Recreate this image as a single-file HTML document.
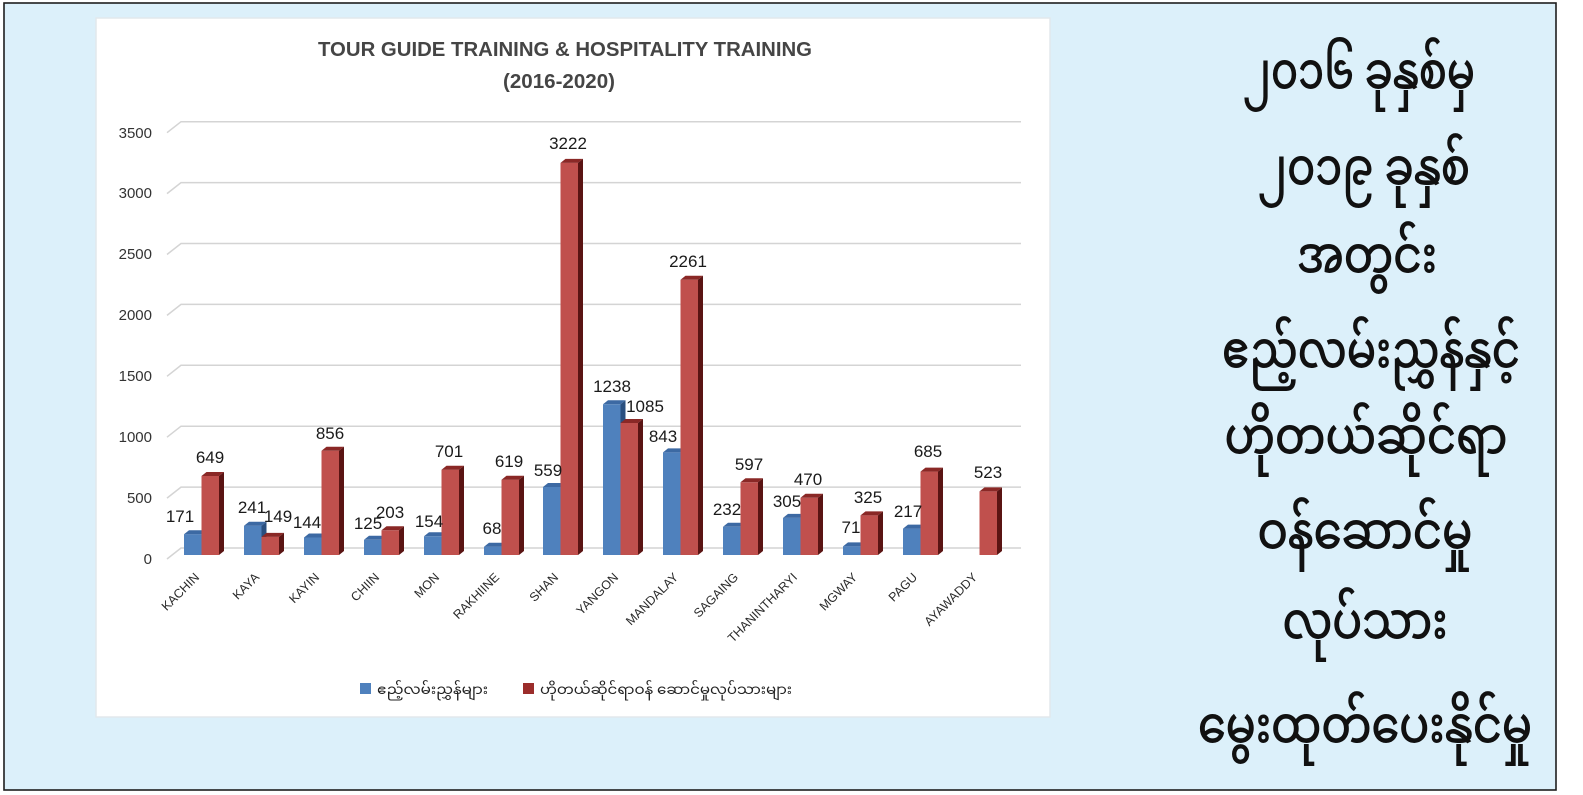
<!DOCTYPE html>
<html>
<head>
<meta charset="utf-8">
<style>
html,body{margin:0;padding:0;background:#ffffff;width:1583px;height:795px;overflow:hidden;}
svg{display:block;}
.t{font-family:"Liberation Sans",sans-serif;}
.my{font-family:"Noto Sans Myanmar","Padauk","Myanmar Text","Pyidaungsu","Liberation Sans",sans-serif;}
</style>
</head>
<body>
<svg width="1583" height="795" viewBox="0 0 1583 795" xmlns="http://www.w3.org/2000/svg">
  <!-- outer frame -->
  <rect x="4" y="3" width="1552" height="787" fill="#dcf0fa" stroke="#1e1e1e" stroke-width="1.6"/>
  <!-- chart panel -->
  <rect x="96" y="18" width="954" height="699" fill="#ffffff" stroke="#e2e8ec" stroke-width="1.5"/>

  <!-- title -->
  <text class="t" x="565" y="56" text-anchor="middle" font-size="20" font-weight="bold" fill="#454545" textLength="494" lengthAdjust="spacingAndGlyphs">TOUR GUIDE TRAINING &amp; HOSPITALITY TRAINING</text>
  <text class="t" x="559" y="88" text-anchor="middle" font-size="20" font-weight="bold" fill="#454545" textLength="112" lengthAdjust="spacingAndGlyphs">(2016-2020)</text>

  <!-- gridlines -->
  <g stroke="#d4d4d4" stroke-width="1.5" fill="none">
    <polyline points="167,559 181,548 1021,548"/>
    <polyline points="167,498.1 181,487.1 1021,487.1"/>
    <polyline points="167,437.2 181,426.2 1021,426.2"/>
    <polyline points="167,376.3 181,365.3 1021,365.3"/>
    <polyline points="167,315.4 181,304.4 1021,304.4"/>
    <polyline points="167,254.5 181,243.5 1021,243.5"/>
    <polyline points="167,193.6 181,182.6 1021,182.6"/>
    <polyline points="167,132.7 181,121.7 1021,121.7"/>
  </g>

  <!-- y-axis labels -->
  <g class="t" font-size="15" fill="#333" text-anchor="end">
    <text x="152" y="564">0</text>
    <text x="152" y="503">500</text>
    <text x="152" y="442">1000</text>
    <text x="152" y="381">1500</text>
    <text x="152" y="320">2000</text>
    <text x="152" y="259">2500</text>
    <text x="152" y="198">3000</text>
    <text x="152" y="138">3500</text>
  </g>

  <!-- bars -->
  <g>
    <g transform="translate(184,534.2)"><rect width="17.5" height="20.8" fill="#4f81bd"/><polygon points="0,0 17.5,0 22.5,-4 5,-4" fill="#3c69a3"/><polygon points="17.5,0 22.5,-4 22.5,16.8 17.5,20.8" fill="#2a4f7f"/></g>
    <g transform="translate(201.5,476)"><rect width="17.5" height="79" fill="#c0504d"/><polygon points="0,0 17.5,0 22.5,-4 5,-4" fill="#8a2826"/><polygon points="17.5,0 22.5,-4 22.5,75 17.5,79" fill="#5a1413"/></g>
    <g transform="translate(244,525.7)"><rect width="17.5" height="29.3" fill="#4f81bd"/><polygon points="0,0 17.5,0 22.5,-4 5,-4" fill="#3c69a3"/><polygon points="17.5,0 22.5,-4 22.5,25.3 17.5,29.3" fill="#2a4f7f"/></g>
    <g transform="translate(261.5,536.9)"><rect width="17.5" height="18.1" fill="#c0504d"/><polygon points="0,0 17.5,0 22.5,-4 5,-4" fill="#8a2826"/><polygon points="17.5,0 22.5,-4 22.5,14.1 17.5,18.1" fill="#5a1413"/></g>
    <g transform="translate(304,537.5)"><rect width="17.5" height="17.5" fill="#4f81bd"/><polygon points="0,0 17.5,0 22.5,-4 5,-4" fill="#3c69a3"/><polygon points="17.5,0 22.5,-4 22.5,13.5 17.5,17.5" fill="#2a4f7f"/></g>
    <g transform="translate(321.5,450.8)"><rect width="17.5" height="104.2" fill="#c0504d"/><polygon points="0,0 17.5,0 22.5,-4 5,-4" fill="#8a2826"/><polygon points="17.5,0 22.5,-4 22.5,100.2 17.5,104.2" fill="#5a1413"/></g>
    <g transform="translate(364,539.8)"><rect width="17.5" height="15.2" fill="#4f81bd"/><polygon points="0,0 17.5,0 22.5,-4 5,-4" fill="#3c69a3"/><polygon points="17.5,0 22.5,-4 22.5,11.2 17.5,15.2" fill="#2a4f7f"/></g>
    <g transform="translate(381.5,530.3)"><rect width="17.5" height="24.7" fill="#c0504d"/><polygon points="0,0 17.5,0 22.5,-4 5,-4" fill="#8a2826"/><polygon points="17.5,0 22.5,-4 22.5,20.7 17.5,24.7" fill="#5a1413"/></g>
    <g transform="translate(424,536.3)"><rect width="17.5" height="18.7" fill="#4f81bd"/><polygon points="0,0 17.5,0 22.5,-4 5,-4" fill="#3c69a3"/><polygon points="17.5,0 22.5,-4 22.5,14.7 17.5,18.7" fill="#2a4f7f"/></g>
    <g transform="translate(441.5,469.7)"><rect width="17.5" height="85.3" fill="#c0504d"/><polygon points="0,0 17.5,0 22.5,-4 5,-4" fill="#8a2826"/><polygon points="17.5,0 22.5,-4 22.5,81.3 17.5,85.3" fill="#5a1413"/></g>
    <g transform="translate(484,546.7)"><rect width="17.5" height="8.3" fill="#4f81bd"/><polygon points="0,0 17.5,0 22.5,-4 5,-4" fill="#3c69a3"/><polygon points="17.5,0 22.5,-4 22.5,4.3 17.5,8.3" fill="#2a4f7f"/></g>
    <g transform="translate(501.5,479.7)"><rect width="17.5" height="75.3" fill="#c0504d"/><polygon points="0,0 17.5,0 22.5,-4 5,-4" fill="#8a2826"/><polygon points="17.5,0 22.5,-4 22.5,71.3 17.5,75.3" fill="#5a1413"/></g>
    <g transform="translate(543,487)"><rect width="17.5" height="68" fill="#4f81bd"/><polygon points="0,0 17.5,0 22.5,-4 5,-4" fill="#3c69a3"/><polygon points="17.5,0 22.5,-4 22.5,64 17.5,68" fill="#2a4f7f"/></g>
    <g transform="translate(560.5,162.9)"><rect width="17.5" height="392.1" fill="#c0504d"/><polygon points="0,0 17.5,0 22.5,-4 5,-4" fill="#8a2826"/><polygon points="17.5,0 22.5,-4 22.5,388.1 17.5,392.1" fill="#5a1413"/></g>
    <g transform="translate(603,404.3)"><rect width="17.5" height="150.7" fill="#4f81bd"/><polygon points="0,0 17.5,0 22.5,-4 5,-4" fill="#3c69a3"/><polygon points="17.5,0 22.5,-4 22.5,146.7 17.5,150.7" fill="#2a4f7f"/></g>
    <g transform="translate(620.5,423)"><rect width="17.5" height="132" fill="#c0504d"/><polygon points="0,0 17.5,0 22.5,-4 5,-4" fill="#8a2826"/><polygon points="17.5,0 22.5,-4 22.5,128 17.5,132" fill="#5a1413"/></g>
    <g transform="translate(663,452.4)"><rect width="17.5" height="102.6" fill="#4f81bd"/><polygon points="0,0 17.5,0 22.5,-4 5,-4" fill="#3c69a3"/><polygon points="17.5,0 22.5,-4 22.5,98.6 17.5,102.6" fill="#2a4f7f"/></g>
    <g transform="translate(680.5,279.8)"><rect width="17.5" height="275.2" fill="#c0504d"/><polygon points="0,0 17.5,0 22.5,-4 5,-4" fill="#8a2826"/><polygon points="17.5,0 22.5,-4 22.5,271.2 17.5,275.2" fill="#5a1413"/></g>
    <g transform="translate(723,526.8)"><rect width="17.5" height="28.2" fill="#4f81bd"/><polygon points="0,0 17.5,0 22.5,-4 5,-4" fill="#3c69a3"/><polygon points="17.5,0 22.5,-4 22.5,24.2 17.5,28.2" fill="#2a4f7f"/></g>
    <g transform="translate(740.5,482.3)"><rect width="17.5" height="72.7" fill="#c0504d"/><polygon points="0,0 17.5,0 22.5,-4 5,-4" fill="#8a2826"/><polygon points="17.5,0 22.5,-4 22.5,68.7 17.5,72.7" fill="#5a1413"/></g>
    <g transform="translate(783,517.9)"><rect width="17.5" height="37.1" fill="#4f81bd"/><polygon points="0,0 17.5,0 22.5,-4 5,-4" fill="#3c69a3"/><polygon points="17.5,0 22.5,-4 22.5,33.1 17.5,37.1" fill="#2a4f7f"/></g>
    <g transform="translate(800.5,497.8)"><rect width="17.5" height="57.2" fill="#c0504d"/><polygon points="0,0 17.5,0 22.5,-4 5,-4" fill="#8a2826"/><polygon points="17.5,0 22.5,-4 22.5,53.2 17.5,57.2" fill="#5a1413"/></g>
    <g transform="translate(843,546.4)"><rect width="17.5" height="8.6" fill="#4f81bd"/><polygon points="0,0 17.5,0 22.5,-4 5,-4" fill="#3c69a3"/><polygon points="17.5,0 22.5,-4 22.5,4.6 17.5,8.6" fill="#2a4f7f"/></g>
    <g transform="translate(860.5,515.4)"><rect width="17.5" height="39.6" fill="#c0504d"/><polygon points="0,0 17.5,0 22.5,-4 5,-4" fill="#8a2826"/><polygon points="17.5,0 22.5,-4 22.5,35.6 17.5,39.6" fill="#5a1413"/></g>
    <g transform="translate(903,528.6)"><rect width="17.5" height="26.4" fill="#4f81bd"/><polygon points="0,0 17.5,0 22.5,-4 5,-4" fill="#3c69a3"/><polygon points="17.5,0 22.5,-4 22.5,22.4 17.5,26.4" fill="#2a4f7f"/></g>
    <g transform="translate(920.5,471.6)"><rect width="17.5" height="83.4" fill="#c0504d"/><polygon points="0,0 17.5,0 22.5,-4 5,-4" fill="#8a2826"/><polygon points="17.5,0 22.5,-4 22.5,79.4 17.5,83.4" fill="#5a1413"/></g>
    <g transform="translate(979.5,491.4)"><rect width="17.5" height="63.6" fill="#c0504d"/><polygon points="0,0 17.5,0 22.5,-4 5,-4" fill="#8a2826"/><polygon points="17.5,0 22.5,-4 22.5,59.6 17.5,63.6" fill="#5a1413"/></g>
  </g>

  <!-- data labels -->
  <g class="t" font-size="17" fill="#1a1a1a" text-anchor="middle">
    <text x="180" y="522">171</text>
    <text x="210" y="463">649</text>
    <text x="252" y="513">241</text>
    <text x="278" y="522">149</text>
    <text x="307" y="528">144</text>
    <text x="330" y="439">856</text>
    <text x="368" y="529">125</text>
    <text x="390" y="518">203</text>
    <text x="429" y="527">154</text>
    <text x="449" y="457">701</text>
    <text x="492" y="534">68</text>
    <text x="509" y="467">619</text>
    <text x="548" y="476">559</text>
    <text x="568" y="149">3222</text>
    <text x="612" y="392">1238</text>
    <text x="645" y="412">1085</text>
    <text x="663" y="442">843</text>
    <text x="688" y="267">2261</text>
    <text x="727" y="515">232</text>
    <text x="749" y="470">597</text>
    <text x="787" y="507">305</text>
    <text x="808" y="485">470</text>
    <text x="851" y="533">71</text>
    <text x="868" y="503">325</text>
    <text x="908" y="517">217</text>
    <text x="928" y="457">685</text>
    <text x="988" y="478">523</text>
  </g>

  <!-- category labels -->
  <g class="t" font-size="12.5" fill="#2a2a2a" text-anchor="end">
    <text transform="translate(200,578) rotate(-45)">KACHIN</text>
    <text transform="translate(260,578) rotate(-45)">KAYA</text>
    <text transform="translate(320,578) rotate(-45)">KAYIN</text>
    <text transform="translate(380,578) rotate(-45)">CHIIN</text>
    <text transform="translate(440,578) rotate(-45)">MON</text>
    <text transform="translate(500,578) rotate(-45)">RAKHIINE</text>
    <text transform="translate(559,578) rotate(-45)">SHAN</text>
    <text transform="translate(619,578) rotate(-45)">YANGON</text>
    <text transform="translate(679,578) rotate(-45)">MANDALAY</text>
    <text transform="translate(739,578) rotate(-45)">SAGAING</text>
    <text transform="translate(798,578) rotate(-45)">THANINTHARYI</text>
    <text transform="translate(858,578) rotate(-45)">MGWAY</text>
    <text transform="translate(918,578) rotate(-45)">PAGU</text>
    <text transform="translate(978,578) rotate(-45)">AYAWADDY</text>
  </g>

  <!-- legend -->
  <rect x="360" y="683" width="11" height="11" fill="#4f81bd"/>
  <text class="my" x="377" y="694" font-size="14" fill="#222" textLength="111" lengthAdjust="spacingAndGlyphs">ဧည့်လမ်းညွှန်များ</text>
  <rect x="523" y="683" width="11" height="11" fill="#9b2d2b"/>
  <text class="my" x="540" y="694" font-size="14" fill="#222" textLength="252" lengthAdjust="spacingAndGlyphs">ဟိုတယ်ဆိုင်ရာဝန် ဆောင်မှုလုပ်သားများ</text>

  <!-- right side Myanmar text -->
  <g class="my" font-size="50" fill="#111" stroke="#111" stroke-width="0.9" text-anchor="middle">
    <text x="1359" y="88" textLength="232" lengthAdjust="spacingAndGlyphs">၂၀၁၆ ခုနှစ်မှ</text>
    <text x="1364" y="184" textLength="212" lengthAdjust="spacingAndGlyphs">၂၀၁၉ ခုနှစ်</text>
    <text x="1367" y="272" textLength="140" lengthAdjust="spacingAndGlyphs">အတွင်း</text>
    <text x="1371" y="367" textLength="298" lengthAdjust="spacingAndGlyphs">ဧည့်လမ်းညွှန်နှင့်</text>
    <text x="1366" y="453" textLength="283" lengthAdjust="spacingAndGlyphs">ဟိုတယ်ဆိုင်ရာ</text>
    <text x="1365" y="548" textLength="215" lengthAdjust="spacingAndGlyphs">ဝန်ဆောင်မှု</text>
    <text x="1365" y="638" textLength="165" lengthAdjust="spacingAndGlyphs">လုပ်သား</text>
    <text x="1365" y="742" textLength="334" lengthAdjust="spacingAndGlyphs">မွေးထုတ်ပေးနိုင်မှု</text>
  </g>
</svg>
</body>
</html>
